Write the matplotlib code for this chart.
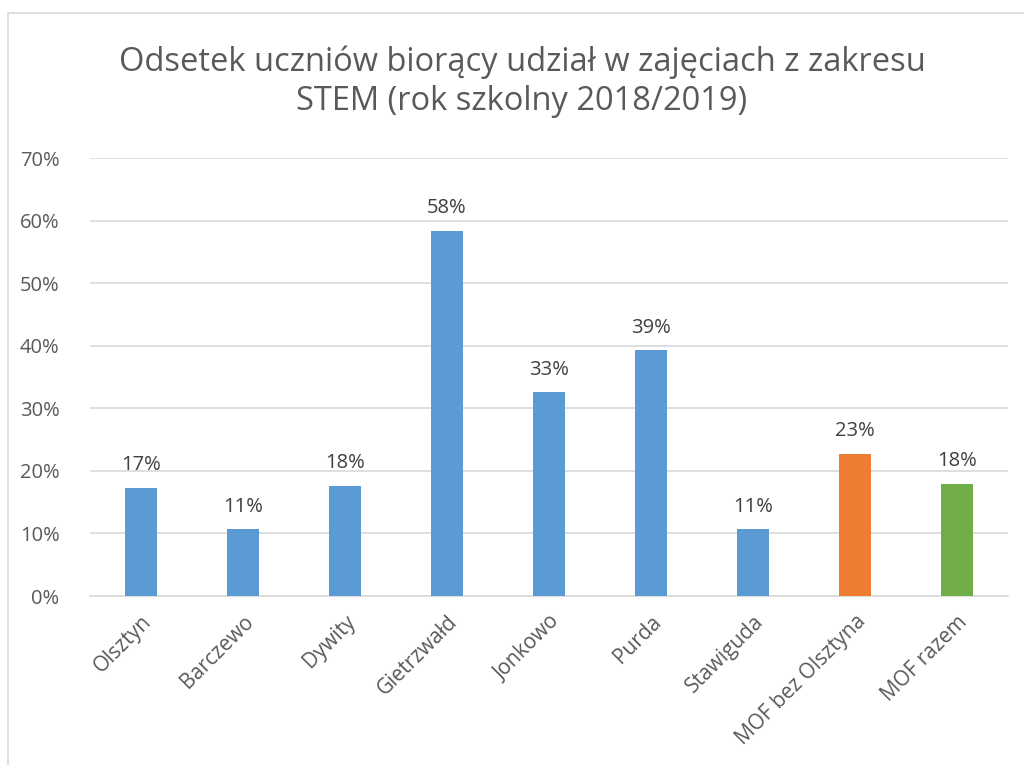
import matplotlib.pyplot as plt
from matplotlib.patches import Rectangle
from matplotlib.ticker import PercentFormatter

plt.rcParams["font.family"] = ["Open Sans", "DejaVu Sans"]

categories = ['Olsztyn', 'Barczewo', 'Dywity', 'Gietrzwałd', 'Jonkowo', 'Purda',
              'Stawiguda', 'MOF bez Olsztyna', 'MOF razem']
values = [17.3, 10.7, 17.6, 58.4, 32.6, 39.3, 10.7, 22.7, 17.9]
labels = ['17%', '11%', '18%', '58%', '33%', '39%', '11%', '23%', '18%']
bar_colors = ['#5b9bd5'] * 7 + ['#ed7d31', '#70ad47']

text_color = '#595959'

fig = plt.figure(figsize=(10.24, 7.65), dpi=100)
# chart area border (left and top visible)
fig.patches.append(Rectangle((8 / 1024, -0.1), 1.2, 1 - 13 / 765 + 0.1,
                             transform=fig.transFigure, fill=False,
                             edgecolor='#d9d9d9', linewidth=1.2))

ax = fig.add_axes([90 / 1024, 1 - 596 / 765, 918 / 1024, 438 / 765])
x = range(len(categories))
bars = ax.bar(x, values, width=0.31, color=bar_colors, zorder=3)

for rect, lab in zip(bars, labels):
    ax.text(rect.get_x() + rect.get_width() / 2, rect.get_height() + 2.0, lab,
            ha='center', va='bottom', fontsize=14.5, color='#404040')

ax.set_xlim(-0.5, len(categories) - 0.5)
ax.set_ylim(0, 70)
ax.set_yticks(range(0, 71, 10))
ax.yaxis.set_major_formatter(PercentFormatter(decimals=0))
ax.grid(axis='y', color='#d9d9d9', linewidth=1.2, zorder=0)
for s in ['top', 'right', 'left']:
    ax.spines[s].set_visible(False)
ax.spines['bottom'].set_color('#d9d9d9')
ax.spines['bottom'].set_linewidth(1.2)
ax.tick_params(axis='y', length=0, labelsize=14.5, colors=text_color, pad=22)
ax.tick_params(axis='x', length=0, labelsize=15, colors=text_color, pad=11)
ax.set_xticks(list(x))
ax.set_xticklabels(categories, rotation=45, ha='right', rotation_mode='anchor')

fig.text(522 / 1024, 1 - 82 / 765,
         'Odsetek uczniów biorący udział w zajęciach z zakresu\nSTEM (rok szkolny 2018/2019)',
         ha='center', va='center', fontsize=23.5, color=text_color, linespacing=1.25)

plt.savefig('out.png', dpi=100)
